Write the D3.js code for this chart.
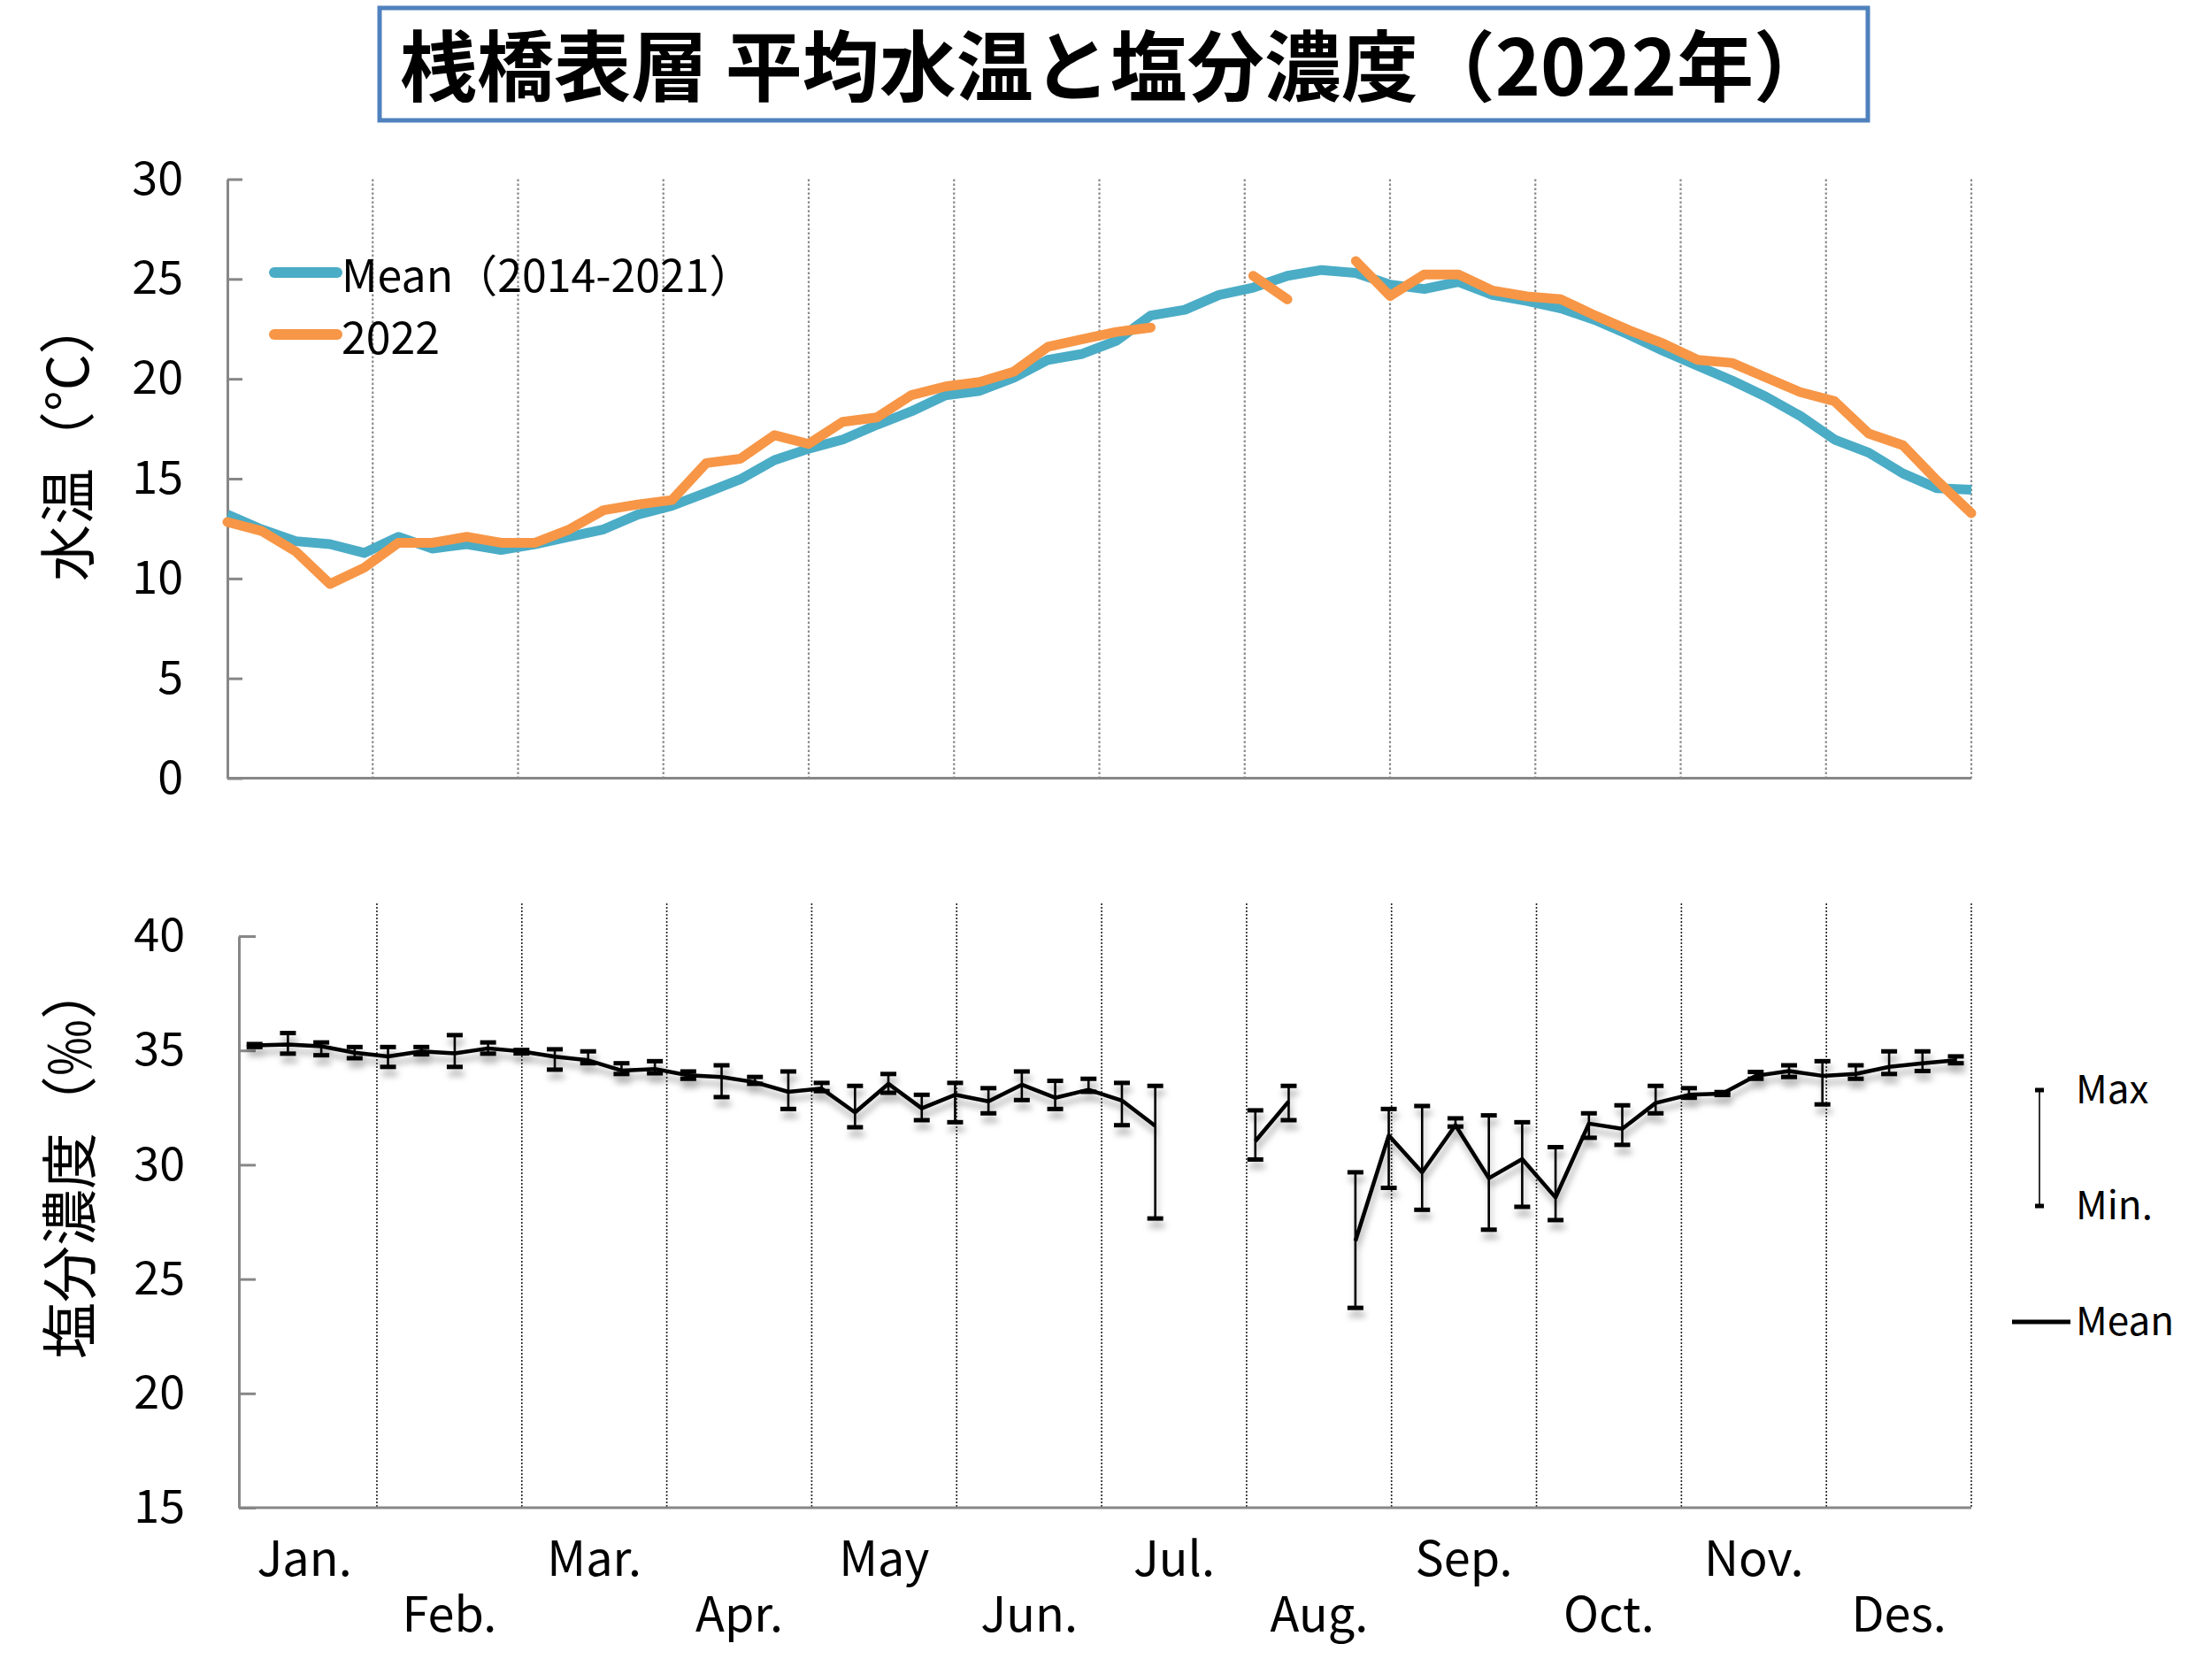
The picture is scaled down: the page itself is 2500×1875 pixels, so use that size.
<!DOCTYPE html>
<html><head><meta charset="utf-8">
<script src="https://cdn.jsdelivr.net/npm/d3@7"></script>
<style>
body{margin:0;background:#fff}
svg{display:block}
text{font-family:"Noto Sans CJK JP","Noto Sans",sans-serif;fill:#000}
</style>
</head><body>
<svg id="c" width="2500" height="1875"></svg>
<script>
// ---------------- data ----------------
const titleText = "桟橋表層 平均水温と塩分濃度（2022年）";
const weeks = d3.range(1, 53);
const seriesNames = ["Mean（2014-2021）", "2022"];
const meanTemp = [13.2, 12.46, 11.87, 11.72, 11.28, 12.09, 11.5, 11.72, 11.43, 11.72,
  12.09, 12.46, 13.2, 13.64, 14.3, 14.97, 15.93, 16.5, 16.96, 17.7,
  18.37, 19.18, 19.4, 20.06, 20.95, 21.25, 21.91, 23.17, 23.46, 24.2,
  24.57, 25.16, 25.45, 25.3, 24.72, 24.5, 24.86, 24.2, 23.9, 23.53,
  22.94, 22.2, 21.39, 20.65, 19.92, 19.1, 18.14, 16.96, 16.3, 15.26,
  14.52, 14.45];
const temp2022 = [12.83, 12.38, 11.35, 9.73, 10.54, 11.79, 11.79, 12.09, 11.79, 11.79,
  12.46, 13.42, 13.71, 13.93, 15.78, 16.0, 17.18, 16.74, 17.85, 18.07,
  19.18, 19.62, 19.84, 20.36, 21.61, 21.98, 22.35, 22.57, null, null,
  25.16, 23.98, null, 25.9, 24.15, 25.23, 25.23, 24.42, 24.13, 23.98,
  23.17, 22.43, 21.76, 20.95, 20.8, 20.06, 19.33, 18.88, 17.26, 16.67,
  14.9, 13.27];
const salMean = [35.22, 35.26, 35.18, 34.9, 34.74, 34.96, 34.87, 35.09, 34.96, 34.73,
  34.57, 34.12, 34.19, 33.91, 33.84, 33.61, 33.19, 33.33, 32.29, 33.54,
  32.47, 33.06, 32.77, 33.5, 32.93, 33.28, 32.81, 31.7, null, null,
  31.03, 32.77, null, 26.67, 31.28, 29.67, 31.73, 29.41, 30.25, 28.57,
  31.8, 31.57, 32.7, 33.06, 33.11, 33.89, 34.1, 33.89, 33.97, 34.28,
  34.44, 34.57];
const salMax = [35.28, 35.76, 35.35, 35.15, 35.15, 35.15, 35.67, 35.35, 35.02, 35.05,
  34.96, 34.44, 34.53, 34.08, 34.35, 33.84, 34.08, 33.58, 33.45, 33.97,
  33.06, 33.58, 33.35, 34.08, 33.67, 33.76, 33.58, 33.45, null, null,
  32.38, 33.45, null, 29.67, 32.44, 32.57, 32.03, 32.16, 31.86, 30.77,
  32.25, 32.6, 33.45, 33.35, 33.18, 34.06, 34.35, 34.53, 34.35, 34.96,
  34.96, 34.74];
const salMin = [35.15, 34.86, 34.79, 34.66, 34.28, 34.83, 34.28, 34.86, 34.87, 34.16,
  34.44, 33.97, 34.0, 33.76, 32.96, 33.54, 32.44, 33.22, 31.64, 33.15,
  31.95, 31.86, 32.25, 32.83, 32.44, 33.19, 31.73, 27.65, null, null,
  30.23, 31.95, null, 23.74, 28.99, 28.03, 31.67, 27.16, 28.16, 27.58,
  31.18, 30.87, 32.25, 32.93, 33.05, 33.76, 33.84, 32.64, 33.76, 33.97,
  34.1, 34.44];
const tempTicks = [0, 5, 10, 15, 20, 25, 30];
const salTicks = [15, 20, 25, 30, 35, 40];
const monthLabels = ["Jan.", "Feb.", "Mar.", "Apr.", "May", "Jun.", "Jul.", "Aug.", "Sep.", "Oct.", "Nov.", "Des."];
const salLegend = ["Max", "Min.", "Mean"];
const tempTitle = "水温（°C）";
const salTitle = "塩分濃度（‰）";

// ---------------- styles ----------------
const BLUE = "#4BACC6", ORANGE = "#F79646", AXIS = "#878787";
const svg = d3.select("#c");

// title
svg.append("rect").attr("x", 429).attr("y", 9).attr("width", 1682).attr("height", 127)
  .attr("fill", "#fff").attr("stroke", "#4F81BD").attr("stroke-width", 5);
svg.append("text").attr("x", 452).attr("y", 70).attr("dominant-baseline", "central")
  .attr("font-size", 87).attr("font-weight", 700).text(titleText);

// ---------------- top chart ----------------
const xT = d3.scaleLinear().domain([1, 52]).range([257, 2228]);
const xTm = d3.scaleLinear().domain([0, 12]).range([257, 2228]);
const yT = d3.scaleLinear().domain([0, 30]).range([879.5, 202.5]);

const gTop = svg.append("g");
gTop.append("g").selectAll("line").data(d3.range(1, 13)).join("line")
  .attr("x1", d => xTm(d)).attr("x2", d => xTm(d))
  .attr("y1", yT(30)).attr("y2", yT(0))
  .attr("stroke", "#8a8a8a").attr("stroke-width", 2.2).attr("stroke-dasharray", "2.5,2.5");

const axT = gTop.append("g").attr("transform", `translate(${xT(1)},0)`)
  .call(d3.axisLeft(yT).tickValues(tempTicks).tickSize(-17).tickSizeOuter(0).tickPadding(50));
axT.select(".domain").attr("stroke", AXIS).attr("stroke-width", 3);
axT.selectAll(".tick line").attr("stroke", AXIS).attr("stroke-width", 3);
axT.selectAll(".tick text").attr("font-size", 52).attr("font-family", "'Noto Sans CJK JP'");
gTop.append("line").attr("x1", xTm(0)).attr("x2", xTm(12)).attr("y1", yT(0)).attr("y2", yT(0))
  .attr("stroke", AXIS).attr("stroke-width", 3);

const lineT = d3.line().defined(d => d[1] != null).x(d => xT(d[0])).y(d => yT(d[1]));
[[meanTemp, BLUE], [temp2022, ORANGE]].forEach(([arr, col]) => {
  gTop.append("path").datum(weeks.map((w, i) => [w, arr[i]]))
    .attr("d", lineT).attr("fill", "none").attr("stroke", col).attr("stroke-width", 11)
    .attr("stroke-linejoin", "round").attr("stroke-linecap", col === ORANGE ? "round" : "butt");
});

// legend top
[[BLUE, 308], [ORANGE, 378]].forEach(([col, y], k) => {
  gTop.append("line").attr("x1", 310).attr("x2", 381).attr("y1", y).attr("y2", y)
    .attr("stroke", col).attr("stroke-width", 12).attr("stroke-linecap", "round");
  gTop.append("text").attr("x", 386).attr("y", y).attr("dominant-baseline", "central")
    .attr("font-size", 50).text(seriesNames[k]);
});

svg.append("text").attr("transform", "translate(72,657) rotate(-90)")
  .attr("text-anchor", "start").attr("dominant-baseline", "central")
  .attr("font-size", 64).text(tempTitle);

// ---------------- bottom chart ----------------
const DAYS = 365;
const dayOf = w => 7 * (w - 1) + 4.75;
const xB = d3.scaleLinear().domain([1.46, DAYS]).range([270, 2228]);
const yB = d3.scaleLinear().domain([15, 40]).range([1704, 1058]);

const defs = svg.append("defs");
const f = defs.append("filter").attr("id", "sh").attr("x", "-20%").attr("y", "-20%").attr("width", "140%").attr("height", "160%");
f.append("feDropShadow").attr("dx", 2).attr("dy", 8).attr("stdDeviation", 3.5)
  .attr("flood-color", "#000").attr("flood-opacity", 0.3);

const gB = svg.append("g");
gB.append("g").selectAll("line").data(d3.range(1, 13)).join("line")
  .attr("x1", d => xB(d * DAYS / 12)).attr("x2", d => xB(d * DAYS / 12))
  .attr("y1", 1021).attr("y2", yB(15))
  .attr("stroke", "#222").attr("stroke-width", 1.6).attr("stroke-dasharray", "2,2");

const axB = gB.append("g").attr("transform", `translate(${xB.range()[0]},0)`)
  .call(d3.axisLeft(yB).tickValues(salTicks).tickSize(-19).tickSizeOuter(0).tickPadding(61));
axB.select(".domain").attr("stroke", AXIS).attr("stroke-width", 3);
axB.selectAll(".tick line").attr("stroke", AXIS).attr("stroke-width", 3);
axB.selectAll(".tick text").attr("font-size", 52).attr("font-family", "'Noto Sans CJK JP'");
gB.append("line").attr("x1", xB.range()[0]).attr("x2", xB.range()[1]).attr("y1", yB(15)).attr("y2", yB(15))
  .attr("stroke", AXIS).attr("stroke-width", 3);

const marks = gB.append("g").attr("filter", "url(#sh)");
const eb = weeks.map((w, i) => ({ w, mx: salMax[i], mn: salMin[i] })).filter(d => d.mx != null);
marks.selectAll("line.eb").data(eb).join("line").attr("class", "eb")
  .attr("x1", d => xB(dayOf(d.w))).attr("x2", d => xB(dayOf(d.w)))
  .attr("y1", d => yB(d.mx)).attr("y2", d => yB(d.mn))
  .attr("stroke", "#000").attr("stroke-width", 2.6);
["mx", "mn"].forEach(k => {
  marks.selectAll("rect." + k).data(eb).join("rect").attr("class", k)
    .attr("x", d => xB(dayOf(d.w)) - 9).attr("y", d => yB(d[k]) - 2.5)
    .attr("width", 18).attr("height", 5).attr("fill", "#000");
});
const lineB = d3.line().defined(d => d[1] != null).x(d => xB(dayOf(d[0]))).y(d => yB(d[1]));
marks.append("path").datum(weeks.map((w, i) => [w, salMean[i]]))
  .attr("d", lineB).attr("fill", "none").attr("stroke", "#000").attr("stroke-width", 4.5)
  .attr("stroke-linejoin", "round");

// month labels
gB.selectAll("text.m").data(monthLabels).join("text").attr("class", "m")
  .attr("x", (d, i) => xB((i + 0.5) * DAYS / 12))
  .attr("y", (d, i) => i % 2 === 0 ? 1781 : 1844)
  .attr("text-anchor", "middle").attr("font-size", 54).text(d => d);

svg.append("text").attr("transform", "translate(74,1536) rotate(-90)")
  .attr("text-anchor", "start").attr("dominant-baseline", "central")
  .attr("font-size", 64).text(salTitle);

// legend bottom
const lg = svg.append("g");
lg.append("line").attr("x1", 2305).attr("x2", 2305).attr("y1", 1232).attr("y2", 1363)
  .attr("stroke", "#000").attr("stroke-width", 1.6);
[1232, 1363].forEach(y => lg.append("rect").attr("x", 2300).attr("y", y - 2.5)
  .attr("width", 10).attr("height", 5).attr("fill", "#000"));
lg.append("line").attr("x1", 2274).attr("x2", 2340).attr("y1", 1494).attr("y2", 1494)
  .attr("stroke", "#000").attr("stroke-width", 5);
[1228, 1359, 1490].forEach((y, k) => lg.append("text").attr("x", 2346).attr("y", y)
  .attr("dominant-baseline", "central").attr("font-size", 44).text(salLegend[k]));
</script>
</body></html>
